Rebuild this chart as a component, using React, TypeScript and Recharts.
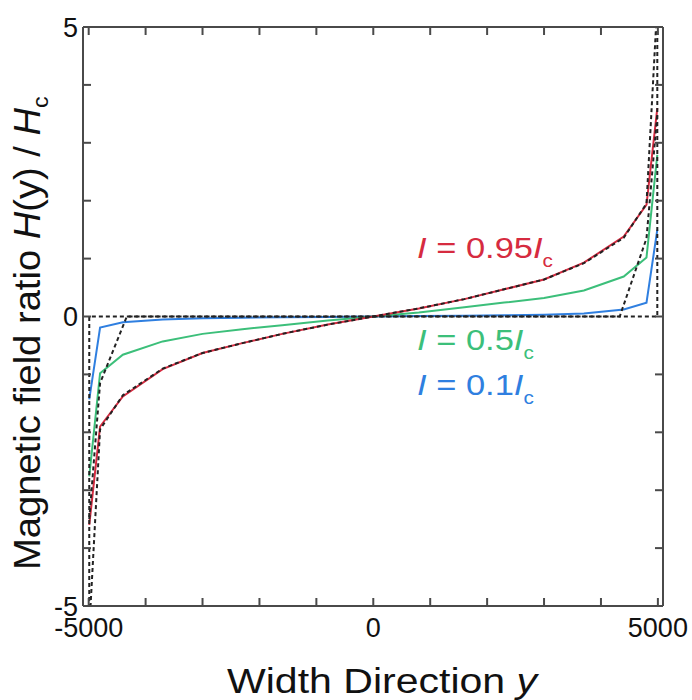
import { LineChart, Line, XAxis, YAxis, ReferenceLine } from "recharts"

const X_TICKS = [-5000, -4000, -3000, -2000, -1000, 0, 1000, 2000, 3000, 4000, 5000]
const Y_TICKS = [-5, -4, -3, -2, -1, 0, 1, 2, 3, 4, 5]
const X_LABELS = [-5000, 0, 5000]
const Y_LABELS = [-5, 0, 5]
const X_DOMAIN = [-5100, 5090]
const Y_DOMAIN = [-5, 5]

// simulated field profiles across the strip width
const widthPos = [-4990, -4800, -4400, -3700, -3000, -2300, -1600, -800, 0, 800, 1600, 2300, 3000, 3700, 4400, 4800, 4990]
const h095 = [-3.6, -1.9, -1.38, -0.91, -0.63, -0.46, -0.3, -0.14, 0, 0.14, 0.3, 0.47, 0.64, 0.93, 1.38, 1.93, 3.6]
const h050 = [-2.76, -0.98, -0.66, -0.43, -0.3, -0.22, -0.15, -0.07, 0, 0.07, 0.16, 0.24, 0.32, 0.45, 0.69, 1.02, 2.79]
const h010 = [-1.43, -0.19, -0.1, -0.05, -0.03, -0.02, -0.015, -0.01, 0, 0.01, 0.015, 0.02, 0.03, 0.05, 0.12, 0.24, 1.5]

// analytic curves (black dotted)
const t095Pos = [-4995, -4800, -4400, -3700, -3000, -2300, -1600, -800, 0, 800, 1600, 2300, 3000, 3700, 4400, 4800, 4995]
const t095 = [-5.5, -1.95, -1.36, -0.9, -0.63, -0.46, -0.3, -0.14, 0, 0.14, 0.3, 0.47, 0.64, 0.92, 1.36, 1.95, 5.5]
const t050Pos = [-4990, -4800, -4330, 4330, 4800, 4990]
const t050 = [-3.5, -1.15, 0, 0, 1.35, 3.5]
const t010Pos = [-4990, -4990, 4990, 4990]
const t010 = [-6, 0, 0, 6]

const RED = "#d62b40"
const GREEN = "#3cbf7a"
const BLUE = "#2f7fe0"
const AXIS = "#4a4a4a"
const FONT = "'Liberation Sans', Arial, sans-serif"
const TICK_LEN = 8

const W = 692
const H = 700
const PLOT_LEFT = 83
const PLOT_TOP = 27
const PLOT_RIGHT = 663
const PLOT_BOTTOM = 606
const Y_AXIS_W = 60
const X_AXIS_H = 40

function zip(xs: number[], hs: number[]) {
  return xs.map((y, i) => ({ y, h: hs[i] }))
}

// ticks point into the plot on all four sides; labels only on a few values
function LeftTick(props: any) {
  const { x, y, payload } = props
  const v = payload.value
  return (
    <g>
      <line x1={x} y1={y} x2={x + TICK_LEN} y2={y} stroke={AXIS} strokeWidth={2} />
      <line x1={PLOT_RIGHT} y1={y} x2={PLOT_RIGHT - TICK_LEN} y2={y} stroke={AXIS} strokeWidth={2} />
      {Y_LABELS.includes(v) && (
        <text x={x - 5} y={y} dy="0.36em" textAnchor="end" fontSize={27} fontFamily={FONT} fill="#111">
          {String(v)}
        </text>
      )}
    </g>
  )
}

function BottomTick(props: any) {
  const { x, y, payload } = props
  const v = payload.value
  return (
    <g>
      <line x1={x} y1={y} x2={x} y2={y - TICK_LEN} stroke={AXIS} strokeWidth={2} />
      <line x1={x} y1={PLOT_TOP} x2={x} y2={PLOT_TOP + TICK_LEN} stroke={AXIS} strokeWidth={2} />
      {X_LABELS.includes(v) && (
        <text x={x} y={y + 31} textAnchor="middle" fontSize={27} fontFamily={FONT} fill="#111">
          {String(v)}
        </text>
      )}
    </g>
  )
}

const frameLine = { stroke: AXIS, strokeWidth: 2 }
const dotted = { stroke: "#222", strokeWidth: 2, strokeDasharray: "4 3" }

export default function App() {
  return (
    <div style={{ position: "absolute", left: 0, top: 0, width: W, height: H, background: "#fff" }}>
      <LineChart
        width={W}
        height={H}
        margin={{
          top: PLOT_TOP,
          right: W - PLOT_RIGHT,
          bottom: H - PLOT_BOTTOM - X_AXIS_H,
          left: PLOT_LEFT - Y_AXIS_W,
        }}
      >
        <XAxis
          type="number"
          dataKey="y"
          domain={X_DOMAIN}
          allowDataOverflow
          ticks={X_TICKS}
          interval={0}
          height={X_AXIS_H}
          tick={(p: any) => <BottomTick {...p} />}
          tickLine={false}
          tickSize={0}
          tickMargin={0}
          axisLine={frameLine}
        />
        <YAxis
          type="number"
          domain={Y_DOMAIN}
          allowDataOverflow
          ticks={Y_TICKS}
          interval={0}
          width={Y_AXIS_W}
          tick={(p: any) => <LeftTick {...p} />}
          tickLine={false}
          tickSize={0}
          tickMargin={0}
          axisLine={frameLine}
        />
        {/* top and right sides of the frame */}
        <ReferenceLine y={Y_DOMAIN[1]} stroke={AXIS} strokeWidth={2} />
        <ReferenceLine x={X_DOMAIN[1]} stroke={AXIS} strokeWidth={2} />

        <Line data={zip(widthPos, h010)} dataKey="h" type="linear" stroke={BLUE} strokeWidth={2} dot={false} isAnimationActive={false} />
        <Line data={zip(widthPos, h050)} dataKey="h" type="linear" stroke={GREEN} strokeWidth={2} dot={false} isAnimationActive={false} />
        <Line data={zip(widthPos, h095)} dataKey="h" type="linear" stroke={RED} strokeWidth={2} dot={false} isAnimationActive={false} />
        <Line data={zip(t010Pos, t010)} dataKey="h" type="linear" {...dotted} dot={false} isAnimationActive={false} />
        <Line data={zip(t050Pos, t050)} dataKey="h" type="linear" {...dotted} dot={false} isAnimationActive={false} />
        <Line data={zip(t095Pos, t095)} dataKey="h" type="linear" {...dotted} dot={false} isAnimationActive={false} />
      </LineChart>

      <svg
        width={W}
        height={H}
        style={{ position: "absolute", left: 0, top: 0, pointerEvents: "none" }}
        fontFamily={FONT}
      >
        <text transform="translate(227,693) scale(1.14,1)" fontSize={36} fill="#111">
          {"Width Direction "}
          <tspan fontStyle="italic">y</tspan>
        </text>
        <text transform="translate(40,570) rotate(-90) scale(1.06,1)" fontSize={36} fill="#111">
          {"Magnetic field ratio "}
          <tspan fontStyle="italic">H</tspan>
          {"(y) / "}
          <tspan fontStyle="italic">H</tspan>
          <tspan fontSize={22} dy={8}>c</tspan>
        </text>
        <text transform="translate(417,258) scale(1.15,1)" fontSize={30} fill={RED}>
          <tspan fontStyle="italic">I</tspan>
          {" = 0.95"}
          <tspan fontStyle="italic">I</tspan>
          <tspan fontSize={18} dy={9}>c</tspan>
        </text>
        <text transform="translate(417,350) scale(1.15,1)" fontSize={30} fill={GREEN}>
          <tspan fontStyle="italic">I</tspan>
          {" = 0.5"}
          <tspan fontStyle="italic">I</tspan>
          <tspan fontSize={18} dy={9}>c</tspan>
        </text>
        <text transform="translate(417,395) scale(1.15,1)" fontSize={30} fill={BLUE}>
          <tspan fontStyle="italic">I</tspan>
          {" = 0.1"}
          <tspan fontStyle="italic">I</tspan>
          <tspan fontSize={18} dy={9}>c</tspan>
        </text>
      </svg>
    </div>
  )
}
